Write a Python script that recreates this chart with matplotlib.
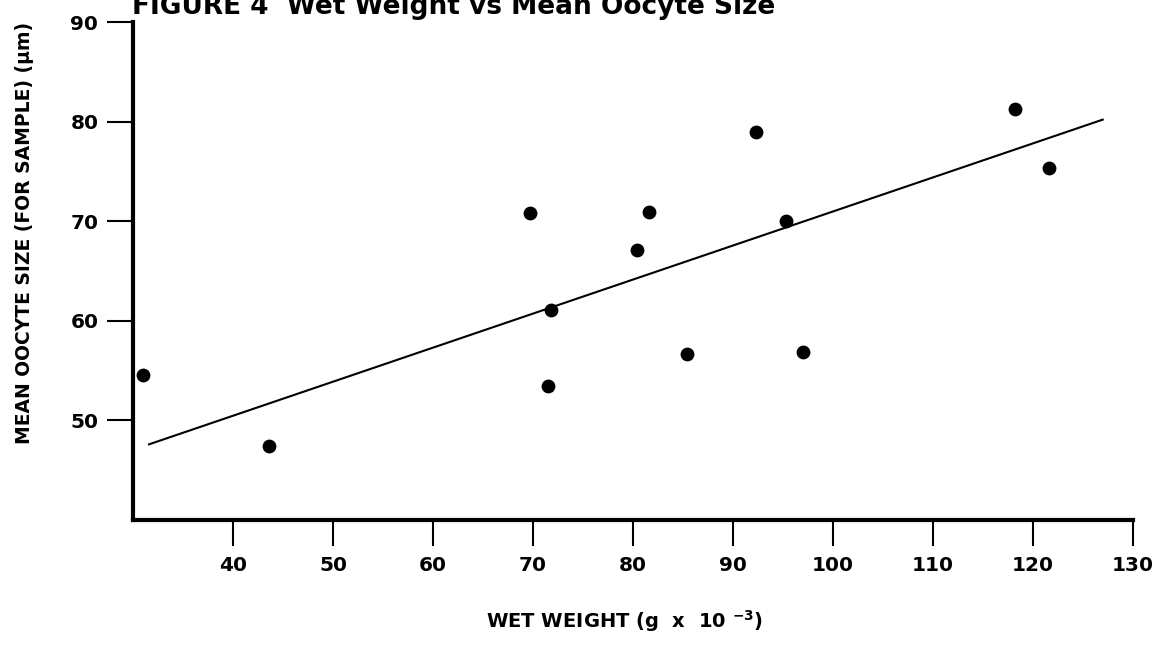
import matplotlib
matplotlib.use('Agg')
import matplotlib.pyplot as plt

plt.rcParams['font.family'] = ['DejaVu Sans']
plt.rcParams['font.weight'] = 'bold'
plt.rcParams['mathtext.fontset'] = 'dejavusans'
plt.rcParams['mathtext.default'] = 'bf'

# Wet weight (g x 10^-3) and mean oocyte size (um) per sample
wet_weight = [31.0, 43.6, 69.7, 71.5, 71.8, 80.4, 81.6, 85.4, 92.3, 95.3, 97.0, 118.2, 121.6]
oocyte_size = [54.6, 47.4, 70.8, 53.5, 61.1, 67.1, 70.9, 56.7, 79.0, 70.0, 56.9, 81.3, 75.3]

# End points of the fitted regression line
fit_x = [31.6, 127.0]
fit_y = [47.6, 80.2]

x_ticks = [40, 50, 60, 70, 80, 90, 100, 110, 120, 130]
y_ticks = [50, 60, 70, 80, 90]

fig = plt.figure(figsize=(11.57, 6.48), dpi=100)
ax = fig.add_axes([0.115, 0.1975, 0.864, 0.7685])

ax.scatter(wet_weight, oocyte_size, s=80, color='black', zorder=3)
ax.plot(fit_x, fit_y, color='black', lw=1.5)

ax.set_xlim(30, 130)
ax.set_ylim(40, 90)
ax.set_xticks(x_ticks)
ax.set_yticks(y_ticks)
ax.tick_params(axis='both', direction='out', length=19, width=1.5, labelsize=14.5, colors='black')
ax.tick_params(axis='x', pad=7)
ax.tick_params(axis='y', pad=6)

for side in ['top', 'right']:
    ax.spines[side].set_visible(False)
for side in ['left', 'bottom']:
    ax.spines[side].set_linewidth(3)

fig.text(0.021, 0.64, 'MEAN OOCYTE SIZE (FOR SAMPLE) (µm)', rotation=90,
         ha='center', va='center', fontsize=13.5, fontweight='bold')
fig.text(0.54, 0.042, r'WET WEIGHT (g  x  10 $^{-3}$)', ha='center', va='center',
         fontsize=14, fontweight='bold')
fig.text(0.114, 0.978, 'FIGURE 4  Wet Weight vs Mean Oocyte Size', ha='left',
         va='baseline', fontsize=19, fontweight='heavy')

fig.savefig('out.png', dpi=100)
